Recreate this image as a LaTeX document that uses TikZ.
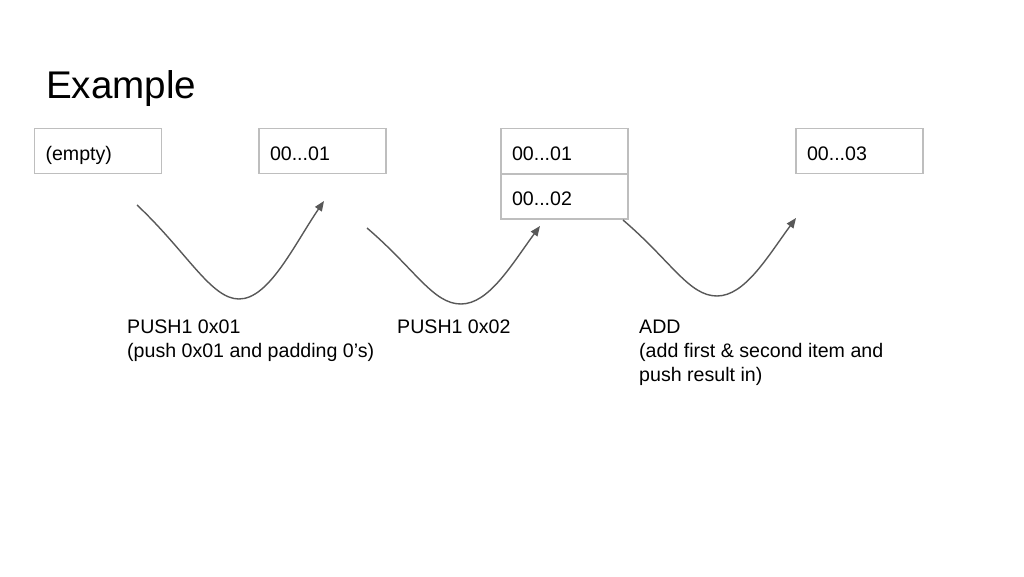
\documentclass[tikz,border=0pt]{standalone}
\usepackage{fontspec}
\setmainfont{Liberation Sans}
\usetikzlibrary{arrows.meta,positioning}
\definecolor{cellGray}{RGB}{190,190,190}
\definecolor{arrowGray}{RGB}{88,88,88}

\begin{document}
\begin{tikzpicture}[x=1pt,y=-1pt,font=\fontsize{19.6}{24}\selectfont,
        >={Triangle[length=10pt,width=8pt]},
        cell/.style={draw=cellGray,line width=1.2pt,minimum width=127pt,minimum height=44.5pt,
                     text width=105pt,inner xsep=11pt,inner ysep=0pt,align=left,
                     text height=18pt,text depth=0pt},
        lbl/.style={anchor=base west,align=left,inner sep=0pt},
        ar/.style={->,arrowGray,line width=1.4pt}]
  \useasboundingbox (0,0) rectangle (1024,576);
  \node[anchor=base west,inner sep=0pt,font=\fontsize{38.6}{46}\selectfont] (title) at (46,98) {Example};
  % stack states
  \node[cell] (s0) at (98,151) {(empty)};
  \node[cell] (s1) at (322.5,151) {00...01};
  \node[cell] (s2top) at (564.5,151) {00...01};
  \node[cell,below=0pt of s2top] (s2bot) {00...02};
  \node[cell] (s3) at (859.5,151) {00...03};
  % opcodes (base = last line)
  \node[lbl] (op1) at (127,357) {PUSH1 0x01\\(push 0x01 and padding 0’s)};
  \node[lbl] (op2) at (397,333) {PUSH1 0x02};
  \node[lbl] (op3) at (639,381) {ADD\\(add first \& second item and\\push result in)};
  % transitions
  \coordinate (a1s) at (137,205); \coordinate (a1m) at (239,299); \coordinate (a1e) at (324,201);
  \coordinate (a2s) at (367,228); \coordinate (a2m) at (461,304); \coordinate (a2e) at (540,226);
  \coordinate (a3s) at (623,220); \coordinate (a3m) at (717,296); \coordinate (a3e) at (796,218);
  \draw[ar] (a1s) .. controls +(50,47) and +(-28,0) .. (a1m) .. controls +(30,0) and +(-30,44) .. (a1e);
  \draw[ar] (a2s) .. controls +(48,41) and +(-28,0) .. (a2m) .. controls +(28,0) and +(-28,38) .. (a2e);
  \draw[ar] (a3s) .. controls +(48,41) and +(-28,0) .. (a3m) .. controls +(28,0) and +(-28,38) .. (a3e);
\end{tikzpicture}
\end{document}
